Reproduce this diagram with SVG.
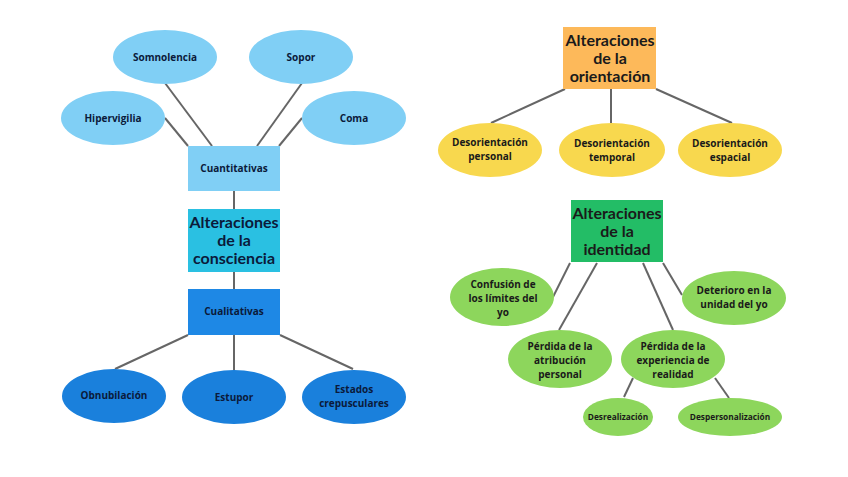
<svg xmlns="http://www.w3.org/2000/svg" width="848" height="477" viewBox="0 0 848 477">
<style>
.ln{stroke:#666;stroke-width:2;fill:none}
text{font-family:"Open Sans","DejaVu Sans",sans-serif;font-weight:700;text-anchor:middle}
.s{font-size:10px;fill:#0b1a3a}
.sr{font-size:10px;fill:#1a1a1a}
.xs{font-size:8.3px;fill:#1a1a1a}
.t{font-family:Lato,"Open Sans",sans-serif;font-size:16px;fill:#0b1a3a;font-weight:700}
.tr{font-family:Lato,"Open Sans",sans-serif;font-size:16px;fill:#1a1a1a;font-weight:700}
.lb{fill:#80CFF5}
.db{fill:#1A80DC}
.yl{fill:#F8D84E}
.lg{fill:#8DD65C}
</style>
<rect width="848" height="477" fill="#fff"/>
<g id="connectors">
<line class="ln" x1="165" y1="118" x2="188" y2="146"/>
<line class="ln" x1="165" y1="83" x2="212" y2="146"/>
<line class="ln" x1="302" y1="83" x2="257" y2="146"/>
<line class="ln" x1="302" y1="118" x2="279" y2="146"/>
<line class="ln" x1="234" y1="191" x2="234" y2="209"/>
<line class="ln" x1="234" y1="272" x2="234" y2="289"/>
<line class="ln" x1="188" y1="335" x2="115" y2="369"/>
<line class="ln" x1="234" y1="335" x2="234" y2="370"/>
<line class="ln" x1="280" y1="335" x2="353" y2="369"/>
<line class="ln" x1="565" y1="89" x2="491" y2="123"/>
<line class="ln" x1="611" y1="89" x2="611" y2="123"/>
<line class="ln" x1="656" y1="89" x2="732" y2="123"/>
<line class="ln" x1="570" y1="263" x2="553" y2="297"/>
<line class="ln" x1="597" y1="263" x2="559" y2="330"/>
<line class="ln" x1="643" y1="263" x2="673" y2="330"/>
<line class="ln" x1="663" y1="263" x2="682" y2="295"/>
<line class="ln" x1="633" y1="378" x2="624" y2="397"/>
<line class="ln" x1="715" y1="378" x2="729" y2="398"/>
</g>
<g id="somnolencia"><ellipse class="lb" cx="165" cy="57" rx="52" ry="27"/><text class="s" x="165" y="60.5">Somnolencia</text></g>
<g id="sopor"><ellipse class="lb" cx="301" cy="57" rx="52" ry="27"/><text class="s" x="301" y="60.5">Sopor</text></g>
<g id="hipervigilia"><ellipse class="lb" cx="113" cy="118" rx="52" ry="27"/><text class="s" x="113" y="121.5">Hipervigilia</text></g>
<g id="coma"><ellipse class="lb" cx="354" cy="118" rx="52" ry="27"/><text class="s" x="354" y="121.5">Coma</text></g>
<g id="cuantitativas"><rect class="lb" x="188" y="146" width="92" height="45"/><text class="s" x="234" y="172">Cuantitativas</text></g>
<g id="consciencia"><rect fill="#2AC0E2" x="188" y="209" width="92" height="63"/><text class="t" x="234" y="228">Alteraciones</text><text class="t" x="234" y="246">de la</text><text class="t" x="234" y="264">consciencia</text></g>
<g id="cualitativas"><rect fill="#1E88E5" x="188" y="289" width="92" height="46"/><text class="s" x="234" y="315">Cualitativas</text></g>
<g id="obnubilacion"><ellipse class="db" cx="114" cy="396" rx="52" ry="27"/><text class="s" x="114" y="399">Obnubilación</text></g>
<g id="estupor"><ellipse class="db" cx="234" cy="397" rx="52" ry="27"/><text class="s" x="234" y="401">Estupor</text></g>
<g id="estados"><ellipse class="db" cx="354" cy="397" rx="52" ry="27"/><text class="s" x="354" y="393">Estados</text><text class="s" x="354" y="407">crepusculares</text></g>
<g id="orientacion"><rect fill="#FDB95A" x="563" y="27" width="93" height="62"/><text class="tr" x="610" y="46">Alteraciones</text><text class="tr" x="610" y="64">de la</text><text class="tr" x="610" y="82">orientación</text></g>
<g id="des-personal"><ellipse class="yl" cx="490" cy="150" rx="52" ry="27"/><text class="sr" x="490" y="146">Desorientación</text><text class="sr" x="490" y="160">personal</text></g>
<g id="des-temporal"><ellipse class="yl" cx="612" cy="150" rx="53" ry="27"/><text class="sr" x="612" y="147">Desorientación</text><text class="sr" x="612" y="161">temporal</text></g>
<g id="des-espacial"><ellipse class="yl" cx="730" cy="150" rx="52" ry="27"/><text class="sr" x="730" y="147">Desorientación</text><text class="sr" x="730" y="161">espacial</text></g>
<g id="identidad"><rect fill="#23BD66" x="571" y="200" width="92" height="62"/><text class="tr" x="617" y="219">Alteraciones</text><text class="tr" x="617" y="237">de la</text><text class="tr" x="617" y="255">identidad</text></g>
<g id="confusion"><ellipse class="lg" cx="502" cy="297" rx="52" ry="29"/><text class="sr" x="503" y="288">Confusión de</text><text class="sr" x="503" y="302">los límites del</text><text class="sr" x="503" y="316">yo</text></g>
<g id="atribucion"><ellipse class="lg" cx="560" cy="359" rx="52" ry="29"/><text class="sr" x="560" y="350">Pérdida de la</text><text class="sr" x="560" y="364">atribución</text><text class="sr" x="560" y="378">personal</text></g>
<g id="experiencia"><ellipse class="lg" cx="673" cy="359" rx="52" ry="29"/><text class="sr" x="673" y="350">Pérdida de la</text><text class="sr" x="673" y="364">experiencia de</text><text class="sr" x="673" y="378">realidad</text></g>
<g id="deterioro"><ellipse class="lg" cx="734" cy="298" rx="52" ry="27"/><text class="sr" x="734" y="294">Deterioro en la</text><text class="sr" x="734" y="308">unidad del yo</text></g>
<g id="desrealizacion"><ellipse class="lg" cx="618" cy="417" rx="35" ry="19"/><text class="xs" x="618" y="420">Desrealización</text></g>
<g id="despersonalizacion"><ellipse class="lg" cx="730" cy="417" rx="52" ry="19"/><text class="xs" x="730" y="420">Despersonalización</text></g>
</svg>
